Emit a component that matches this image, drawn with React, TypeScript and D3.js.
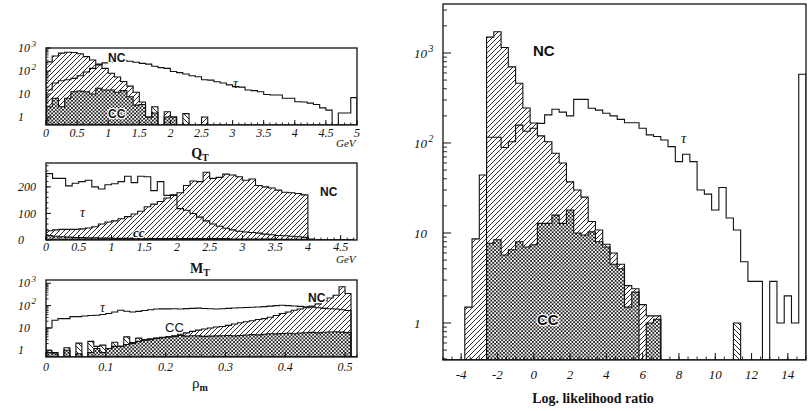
import React from 'react';
import * as d3 from 'd3';

// ===================== DATA =====================
// Q_T panel: bins of 0.1 GeV from 0 to 5 GeV (log scale)
const qtBinStart = 0;
const qtBinWidth = 0.1;
const qtNC = [250, 450, 600, 650, 640, 560, 420, 300, 200, 130, 80, 55, 35, 22, 12, 4.5, 1, 1.5, 0, 1.7, 1, 0, 0, 0, 0, 1, 0, 0, 0, 0, 0, 0, 0, 0, 0, 0, 0, 0, 0, 0, 0, 0, 0, 0, 0, 0, 0, 0, 0, 0];
const qtCC = [2.8, 6.5, 2.8, 6.5, 12.6, 13.5, 12.6, 10, 17.7, 15, 15, 12, 14, 7.6, 3.3, 3.5, 1, 2.8, 0, 1, 1, 0, 1.4, 0, 0, 0, 0, 0, 0, 0, 0, 0, 0, 0, 0, 0, 0, 0, 0, 0, 0, 0, 0, 0, 0, 0, 0, 0, 0, 0];
const qtTau = [15, 30, 38, 42, 48, 62, 90, 130, 185, 225, 250, 275, 285, 265, 240, 215, 200, 160, 140, 130, 95, 85, 74, 62, 56, 42, 40, 34, 30, 25, 21, 20, 15, 14, 12.6, 9.5, 9, 9, 6.5, 6.5, 4.6, 4.5, 4, 3.5, 2.5, 2, 0, 1.5, 1.5, 7];
const qtXTicks = [0, 0.5, 1, 1.5, 2, 2.5, 3, 3.5, 4, 4.5, 5];
const qtXLabels = ['0', '0.5', '1', '1.5', '2', '2.5', '3', '3.5', '4', '4.5', '5'];

// M_T panel: bins of 0.1 GeV from 0 (linear scale)
const mtBinStart = 0;
const mtBinWidth = 0.1;
const mtNC = [35, 38, 40, 40, 40, 42, 45, 50, 60, 68, 72, 80, 88, 98, 108, 125, 135, 145, 158, 170, 178, 205, 222, 220, 255, 232, 236, 248, 245, 238, 225, 230, 205, 200, 196, 188, 180, 178, 175, 170, 0, 0, 0, 0, 0, 0, 0];
const mtCC = [17, 14, 12, 11, 9, 9, 8, 8, 7, 7, 6, 6, 6, 5, 5, 5, 5, 5, 5, 5, 5, 5, 5, 5, 5, 5, 5, 5, 4, 4, 4, 4, 4, 4, 4, 3, 3, 3, 3, 3, 0, 0, 0, 0, 0, 0, 0];
const mtTau = [250, 232, 232, 204, 214, 220, 225, 200, 192, 208, 212, 220, 240, 216, 240, 238, 186, 220, 168, 168, 118, 112, 100, 86, 72, 60, 52, 44, 38, 33, 30, 28, 26, 22, 20, 17, 16, 14, 12, 10, 4, 0, 0, 0, 0, 0, 0];
const mtXTicks = [0, 0.5, 1, 1.5, 2, 2.5, 3, 3.5, 4, 4.5];
const mtXLabels = ['0', '0.5', '1', '1.5', '2', '2.5', '3', '3.5', '4', '4.5'];
const mtYTicks = [0, 100, 200];

// rho_m panel: bins of 0.01 from 0 (log scale)
const rhoBinStart = 0;
const rhoBinWidth = 0.01;
const rhoNC = [0.8, 0.7, 0, 1, 0, 0.7, 0, 0.8, 1.2, 0.8, 1.2, 1.5, 1.5, 1.8, 2.2, 2.5, 2.8, 3.0, 3.4, 3.7, 4.0, 4.5, 5.2, 6, 7, 8, 9, 10, 11, 11.6, 13, 15, 17, 19, 21, 24, 26, 30, 36, 44, 52, 62, 70, 80, 95, 120, 160, 220, 290, 700, 350, 0];
const rhoCC = [1, 0.8, 0, 1.3, 0, 2.1, 0, 2.5, 1.5, 1.7, 1.2, 2.3, 1.5, 4, 2, 3.5, 3, 3.3, 3.5, 3.8, 4, 4.2, 4.6, 4.3, 4.5, 4.4, 4.2, 4.3, 4.4, 4.5, 4.6, 4.4, 4.6, 4.8, 5, 4.9, 5.2, 5.5, 5.4, 5.6, 5.8, 5.5, 5.9, 6.1, 6.3, 6, 6.4, 6.6, 6.8, 6.5, 6.2, 0];
const rhoTau = [10, 22, 26, 26, 32, 32, 34, 36, 37, 40, 44, 52, 62, 56, 52, 55, 60, 65, 70, 71, 71, 72, 70, 73, 75, 77, 74, 72, 70, 72, 75, 78, 80, 82, 85, 87, 90, 95, 100, 104, 100, 96, 92, 88, 84, 80, 75, 72, 70, 65, 60, 0];
const rhoXTicks = [0, 0.1, 0.2, 0.3, 0.4, 0.5];
const rhoXLabels = ['0', '0.1', '0.2', '0.3', '0.4', '0.5'];

// Log-likelihood ratio panel: bins of 0.4 from -5 to 15 (log scale)
const llrBinStart = -5;
const llrBinWidth = 0.4;
const llrNC = [0, 0, 0, 1.5, 8.6, 44, 1500, 1720, 1150, 700, 460, 245, 167, 120, 103, 77, 60, 37, 30, 25, 13.4, 10.8, 7, 6, 4.5, 2.6, 2.4, 1.6, 1.2, 1.2, 0, 0, 0, 0, 0, 0, 0, 0, 0, 0, 0, 0, 0, 0, 0, 0, 0, 0, 0, 0];
const llrCC = [0, 0, 0, 0, 0, 0, 7.7, 8.4, 5.7, 6.5, 8, 7, 7.4, 12.8, 12.8, 15.8, 12.8, 18, 10, 9.5, 10.3, 8, 7.5, 4.5, 4, 1.5, 2.2, 0, 1, 1.1, 0, 0, 0, 0, 0, 0, 0, 0, 0, 0, 1, 0, 0, 0, 0, 0, 0, 0, 0, 0];
const llrTau = [0, 0, 0, 0, 0, 0, 116, 116, 89, 103, 158, 135, 146, 165, 205, 237, 220, 200, 305, 305, 243, 232, 214, 200, 183, 168, 168, 146, 123, 118, 108, 91, 62, 75, 62, 30, 27, 18, 32, 14.7, 10.8, 4.8, 2.9, 2.9, 0, 2.9, 1, 2, 1, 580];
const llrXTicks = [-4, -2, 0, 2, 4, 6, 8, 10, 12, 14];
const llrXLabels = ['-4', '-2', '0', '2', '4', '6', '8', '10', '12', '14'];

const logYTicks = [1, 10, 100, 1000];
const logYLabels: [string, string][] = [['1', ''], ['10', ''], ['10', '2'], ['10', '3']];

// ===================== DRAWING =====================
const serif = "'Liberation Serif', 'DejaVu Serif', serif";
const sans = "'Liberation Sans', 'DejaVu Sans', sans-serif";

type Frame = { x0: number; x1: number; y0: number; y1: number };
type Cfg = {
  id: string;
  frame: Frame;
  xDomain: [number, number];
  yDomain: [number, number];
  log: boolean;
  binStart: number;
  binWidth: number;
  nc: number[];
  cc: number[];
  tau: number[];
  xTicks: number[];
  xLabels: string[];
  xMinor: number;
  xMajorLen: number;
  xMinorLen: number;
  yTicks: number[];
  yLabels: [string, string][];
  yMinorStep?: number;
  yMajorLen: number;
  yMinorLen: number;
  fontSize: number;
  xLabelBaseline: number;
  yLabelX: number;
  yLabelAnchor: 'start' | 'middle' | 'end';
};

function Panel({ cfg }: { cfg: Cfg }) {
  const f = cfg.frame;
  const xs = d3.scaleLinear().domain(cfg.xDomain).range([f.x0, f.x1]);
  const ys: any = (cfg.log ? d3.scaleLog() : d3.scaleLinear()).domain(cfg.yDomain).range([f.y1, f.y0]);
  const floor = cfg.yDomain[0];
  const yv = (v: number) => ys(Math.max(v, floor));
  const pts = (vals: number[]) => {
    const p = vals.map((v, i) => ({ x: cfg.binStart + i * cfg.binWidth, v }));
    p.push({ x: cfg.binStart + vals.length * cfg.binWidth, v: vals[vals.length - 1] });
    return p;
  };
  const area = d3
    .area<{ x: number; v: number }>()
    .curve(d3.curveStepAfter)
    .x((d) => xs(d.x))
    .y0(ys(floor))
    .y1((d) => yv(d.v));
  const line = d3
    .line<{ x: number; v: number }>()
    .curve(d3.curveStepAfter)
    .x((d) => xs(d.x))
    .y((d) => yv(d.v));
  const tauEnd = cfg.binStart + cfg.tau.length * cfg.binWidth;
  const tauPts = [{ x: cfg.binStart, v: floor }, ...pts(cfg.tau), { x: tauEnd, v: floor }];

  const overlap = cfg.nc.map((v, i) => Math.min(v, cfg.cc[i]));
  const ncPath = area(pts(cfg.nc)) || '';
  const ccPath = area(pts(cfg.cc)) || '';
  const ovPath = area(pts(overlap)) || '';
  const tauPath = line(tauPts) || '';

  const xMinorTicks = d3.range(
    Math.ceil(cfg.xDomain[0] / cfg.xMinor - 1e-6) * cfg.xMinor,
    cfg.xDomain[1] + 1e-9,
    cfg.xMinor
  );
  let yMinorTicks: number[] = [];
  if (cfg.log) {
    const lo = Math.floor(Math.log10(cfg.yDomain[0]));
    const hi = Math.ceil(Math.log10(cfg.yDomain[1]));
    for (let d = lo; d <= hi; d++) {
      for (let k = 2; k <= 9; k++) {
        const v = k * Math.pow(10, d);
        if (v > cfg.yDomain[0] && v < cfg.yDomain[1]) yMinorTicks.push(v);
      }
    }
  } else if (cfg.yMinorStep) {
    yMinorTicks = d3.range(0, cfg.yDomain[1], cfg.yMinorStep);
  }

  const clipId = 'clip-' + cfg.id;
  return (
    <g>
      <defs>
        <clipPath id={clipId}>
          <rect x={f.x0} y={f.y0} width={f.x1 - f.x0} height={f.y1 - f.y0} />
        </clipPath>
      </defs>
      <g clipPath={`url(#${clipId})`}>
        <path d={ncPath} fill="url(#hatchNC)" stroke="none" />
        <path d={ccPath} fill="url(#hatchCC)" stroke="none" />
        <path d={ovPath} fill="url(#mesh)" stroke="none" />
        <path d={ncPath} fill="none" stroke="#111" strokeWidth={1.1} />
        <path d={ccPath} fill="none" stroke="#111" strokeWidth={1.1} />
        <path d={tauPath} fill="none" stroke="#111" strokeWidth={1.1} />
      </g>
      <rect x={f.x0} y={f.y0} width={f.x1 - f.x0} height={f.y1 - f.y0} fill="none" stroke="#111" strokeWidth={1.3} />
      {xMinorTicks.map((t, i) => (
        <line key={'xm' + i} x1={xs(t)} x2={xs(t)} y1={f.y1} y2={f.y1 - cfg.xMinorLen} stroke="#111" strokeWidth={0.9} />
      ))}
      {cfg.xTicks.map((t, i) => (
        <line key={'xM' + i} x1={xs(t)} x2={xs(t)} y1={f.y1} y2={f.y1 - cfg.xMajorLen} stroke="#111" strokeWidth={1} />
      ))}
      {cfg.xTicks.map((t, i) => (
        <text
          key={'xl' + i}
          x={xs(t)}
          y={cfg.xLabelBaseline}
          textAnchor="middle"
          fontFamily={serif}
          fontStyle="italic"
          fontSize={cfg.fontSize}
          fill="#111"
        >
          {cfg.xLabels[i]}
        </text>
      ))}
      {yMinorTicks.map((t, i) => (
        <line key={'ym' + i} x1={f.x0} x2={f.x0 + cfg.yMinorLen} y1={ys(t)} y2={ys(t)} stroke="#111" strokeWidth={0.9} />
      ))}
      {cfg.yTicks.map((t, i) => (
        <line key={'yM' + i} x1={f.x0} x2={f.x0 + cfg.yMajorLen} y1={ys(t)} y2={ys(t)} stroke="#111" strokeWidth={1} />
      ))}
      {cfg.yTicks.map((t, i) => (
        <text
          key={'yl' + i}
          x={cfg.yLabelX}
          y={ys(t) + cfg.fontSize * 0.35}
          textAnchor={cfg.yLabelAnchor}
          fontFamily={serif}
          fontStyle="italic"
          fontSize={cfg.fontSize}
          fill="#111"
        >
          {cfg.yLabels[i][0]}
          {cfg.yLabels[i][1] ? (
            <tspan dx={1.5} dy={-cfg.fontSize * 0.45} fontSize={cfg.fontSize * 0.75}>
              {cfg.yLabels[i][1]}
            </tspan>
          ) : null}
        </text>
      ))}
    </g>
  );
}

const qtCfg: Cfg = {
  id: 'qt',
  frame: { x0: 46, x1: 357, y0: 48, y1: 125 },
  xDomain: [0, 5],
  yDomain: [0.45, 1000],
  log: true,
  binStart: qtBinStart,
  binWidth: qtBinWidth,
  nc: qtNC,
  cc: qtCC,
  tau: qtTau,
  xTicks: qtXTicks,
  xLabels: qtXLabels,
  xMinor: 0.1,
  xMajorLen: 5,
  xMinorLen: 2.5,
  yTicks: logYTicks,
  yLabels: logYLabels,
  yMajorLen: 5,
  yMinorLen: 2.5,
  fontSize: 12,
  xLabelBaseline: 137,
  yLabelX: 18,
  yLabelAnchor: 'start',
};

const mtCfg: Cfg = {
  id: 'mt',
  frame: { x0: 46, x1: 357, y0: 163, y1: 240 },
  xDomain: [0, 4.75],
  yDomain: [0, 290],
  log: false,
  binStart: mtBinStart,
  binWidth: mtBinWidth,
  nc: mtNC,
  cc: mtCC,
  tau: mtTau,
  xTicks: mtXTicks,
  xLabels: mtXLabels,
  xMinor: 0.1,
  xMajorLen: 5,
  xMinorLen: 2.5,
  yTicks: mtYTicks,
  yLabels: mtYTicks.map((t) => [String(t), ''] as [string, string]),
  yMinorStep: 20,
  yMajorLen: 5,
  yMinorLen: 2.5,
  fontSize: 12,
  xLabelBaseline: 251,
  yLabelX: 18,
  yLabelAnchor: 'start',
};

const rhoCfg: Cfg = {
  id: 'rho',
  frame: { x0: 46, x1: 357, y0: 280, y1: 357 },
  xDomain: [0, 0.52],
  yDomain: [0.5, 1400],
  log: true,
  binStart: rhoBinStart,
  binWidth: rhoBinWidth,
  nc: rhoNC,
  cc: rhoCC,
  tau: rhoTau,
  xTicks: rhoXTicks,
  xLabels: rhoXLabels,
  xMinor: 0.02,
  xMajorLen: 5,
  xMinorLen: 2.5,
  yTicks: logYTicks,
  yLabels: logYLabels,
  yMajorLen: 5,
  yMinorLen: 2.5,
  fontSize: 12,
  xLabelBaseline: 371,
  yLabelX: 18,
  yLabelAnchor: 'start',
};

const llrCfg: Cfg = {
  id: 'llr',
  frame: { x0: 443, x1: 806, y0: 4, y1: 360 },
  xDomain: [-5, 15],
  yDomain: [0.388, 3500],
  log: true,
  binStart: llrBinStart,
  binWidth: llrBinWidth,
  nc: llrNC,
  cc: llrCC,
  tau: llrTau,
  xTicks: llrXTicks,
  xLabels: llrXLabels,
  xMinor: 0.5,
  xMajorLen: 7,
  xMinorLen: 3.5,
  yTicks: logYTicks,
  yLabels: logYLabels,
  yMajorLen: 8,
  yMinorLen: 4,
  fontSize: 13,
  xLabelBaseline: 379,
  yLabelX: 414,
  yLabelAnchor: 'start',
};

const halo = { paintOrder: 'stroke' as const, stroke: '#fff', strokeWidth: 2.5, strokeLinejoin: 'round' as const };

export default function App() {
  return (
    <svg
      width={811}
      height={411}
      viewBox="0 0 811 411"
      style={{ position: 'absolute', left: 0, top: 0, background: '#fff' }}
    >
      <defs>
        <pattern id="hatchNC" patternUnits="userSpaceOnUse" width={5} height={5}>
          <path d="M0,5 L5,0 M-1,1 L1,-1 M4,6 L6,4" stroke="#111" strokeWidth={0.9} />
        </pattern>
        <pattern id="hatchCC" patternUnits="userSpaceOnUse" width={5} height={5}>
          <path d="M0,0 L5,5 M-1,4 L1,6 M4,-1 L6,1" stroke="#111" strokeWidth={0.9} />
        </pattern>
        <pattern id="mesh" patternUnits="userSpaceOnUse" width={3.6} height={3.6}>
          <rect x={0} y={0} width={3.6} height={3.6} fill="#fff" />
          <path
            d="M0,0 L3.6,3.6 M-1,2.6 L1,4.6 M2.6,-1 L4.6,1 M0,3.6 L3.6,0 M-1,1 L1,-1 M2.6,4.6 L4.6,2.6"
            stroke="#111"
            strokeWidth={0.85}
          />
        </pattern>
      </defs>
      <rect x={0} y={0} width={811} height={411} fill="#fff" />
      <Panel cfg={qtCfg} />
      <Panel cfg={mtCfg} />
      <Panel cfg={rhoCfg} />
      <Panel cfg={llrCfg} />

      {/* Q_T panel annotations */}
      <text x={108} y={62} fontFamily={sans} fontWeight="bold" fontSize={12} fill="#111" style={halo}>NC</text>
      <text x={233} y={88} fontFamily={serif} fontStyle="italic" fontSize={14} fill="#111">τ</text>
      <text x={108} y={118} fontFamily={sans} fontWeight="bold" fontSize={12} fill="#111" style={halo}>CC</text>
      <text x={336} y={147} fontFamily={serif} fontStyle="italic" fontSize={11} fill="#111">GeV</text>
      <text x={200} y={158} textAnchor="middle" fontFamily={serif} fontWeight="bold" fontSize={14} fill="#111">
        Q<tspan dy={3} fontSize={10}>T</tspan>
      </text>

      {/* M_T panel annotations */}
      <text x={320} y={196} fontFamily={sans} fontWeight="bold" fontSize={12} fill="#111" style={halo}>NC</text>
      <text x={80} y={217} fontFamily={serif} fontStyle="italic" fontSize={14} fill="#111">τ</text>
      <text x={133} y={237} fontFamily={serif} fontStyle="italic" fontWeight="bold" fontSize={13} fill="#111" style={halo}>cc</text>
      <text x={336} y={263} fontFamily={serif} fontStyle="italic" fontSize={11} fill="#111">GeV</text>
      <text x={200} y={273} textAnchor="middle" fontFamily={serif} fontWeight="bold" fontSize={14} fill="#111">
        M<tspan dy={3} fontSize={10}>T</tspan>
      </text>

      {/* rho_m panel annotations */}
      <text x={100} y={312} fontFamily={serif} fontStyle="italic" fontSize={14} fill="#111">τ</text>
      <text x={165} y={332} fontFamily={sans} fontSize={13} fill="#111" style={halo}>CC</text>
      <text x={308} y={302} fontFamily={sans} fontWeight="bold" fontSize={12} fill="#111" style={halo}>NC</text>
      <text x={200} y={388} textAnchor="middle" fontFamily={serif} fontSize={15} fill="#111">
        ρ<tspan dy={3} fontSize={10} fontWeight="bold">m</tspan>
      </text>

      {/* Likelihood panel annotations */}
      <text x={533} y={56} fontFamily={sans} fontWeight="bold" fontSize={15} fill="#111">NC</text>
      <text x={681} y={143} fontFamily={serif} fontStyle="italic" fontSize={15} fill="#111">τ</text>
      <text x={537} y={325} fontFamily={sans} fontWeight="bold" fontSize={15} fill="#111" style={halo}>CC</text>
      <text x={593} y={403} textAnchor="middle" fontFamily={serif} fontWeight="bold" fontSize={14} fill="#111">
        Log. likelihood ratio
      </text>
    </svg>
  );
}
